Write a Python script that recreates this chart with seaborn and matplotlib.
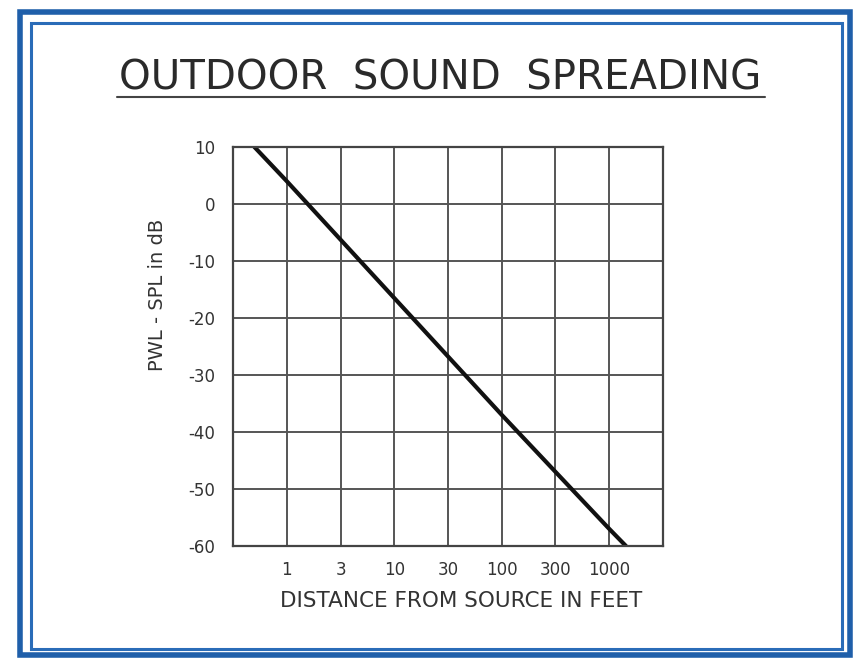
import numpy as np
import pandas as pd
import seaborn as sns
import matplotlib.pyplot as plt
from matplotlib.patches import Rectangle
from matplotlib.lines import Line2D

# values
distance_ft = [0.5, 1, 10, 100, 1000, 1430]
pwl_minus_spl = [10, 4, -16.5, -37, -57, -60]
x_ticks = [1, 3.162, 10, 31.62, 100, 316.2, 1000]
x_labels = ['1', '3', '10', '30', '100', '300', '1000']
y_ticks = [10, 0, -10, -20, -30, -40, -50, -60]
y_labels = ['10', '0', '-10', '-20', '-30', '-40', '-50', '-60']

df = pd.DataFrame({'distance': distance_ft, 'level': pwl_minus_spl})

sns.set_style('white')
plt.rcParams['font.family'] = ['DejaVu Sans']
plt.rcParams['axes.unicode_minus'] = False

fig = plt.figure(figsize=(8.58, 6.63), dpi=100)
ax = fig.add_axes([0.2716, 0.1765, 0.5011, 0.6018])

sns.lineplot(data=df, x='distance', y='level', ax=ax, color='#111111', linewidth=3)

ax.set_xscale('log')
ax.set_xlim(10 ** -0.5, 10 ** 3.5)
ax.set_ylim(-60, 10)
ax.set_xticks(x_ticks)
ax.set_xticklabels(x_labels)
ax.set_yticks(y_ticks)
ax.set_yticklabels(y_labels)
ax.minorticks_off()
ax.tick_params(length=0, labelsize=12, colors='#333333')
ax.tick_params(axis='y', pad=13)
ax.tick_params(axis='x', pad=11)
ax.grid(True, color='#555555', linewidth=1.4)
for s in ax.spines.values():
    s.set_color('#444444')
    s.set_linewidth(1.6)

ax.set_xlabel('DISTANCE FROM SOURCE IN FEET', fontsize=15.5, color='#333333')
ax.xaxis.set_label_coords(0.53, -0.113)
ax.set_ylabel('PWL - SPL in dB', fontsize=14, color='#333333')
ax.yaxis.set_label_coords(-0.153, 0.629)

# title with underline
fig.text(0.513, 0.882, 'OUTDOOR  SOUND  SPREADING', ha='center', va='center',
         fontsize=29, color='#2a2a2a')
fig.add_artist(Line2D([117 / 858, 765 / 858], [1 - 97 / 663, 1 - 97 / 663],
                      color='#444444', linewidth=1.5))

# blue double frame
fig.add_artist(Rectangle((20 / 858, 1 - 655 / 663), 830 / 858, 643 / 663,
                         fill=False, edgecolor='#1f5faa', linewidth=4))
fig.add_artist(Rectangle((31 / 858, 1 - 649 / 663), 811 / 858, 626 / 663,
                         fill=False, edgecolor='#2a6cb8', linewidth=2.2))

plt.savefig('out.png', dpi=100)
